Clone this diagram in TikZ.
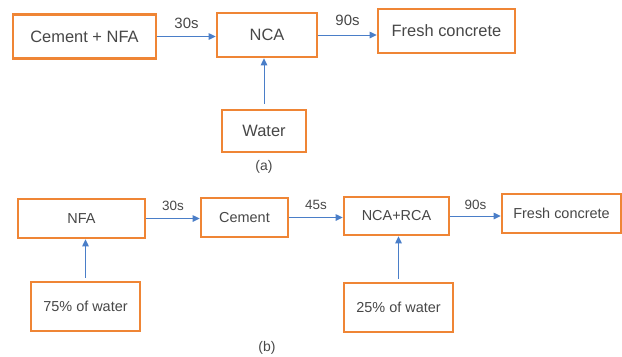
\documentclass[tikz,border=0pt]{standalone}
\usepackage{fontspec}
\setmainfont{Liberation Sans}
\usetikzlibrary{arrows.meta}
\definecolor{boxorange}{HTML}{EF8535}
\definecolor{arrblue}{HTML}{4A7EC8}
\definecolor{txtgray}{HTML}{474747}
\tikzset{
  box/.style={draw=boxorange, line width=2.6bp, fill=white, text=txtgray, inner sep=0pt},
  abox/.style={box, font=\fontsize{16.5}{18}\selectfont},
  bbox/.style={box, font=\fontsize{14.5}{16}\selectfont},
  arr/.style={draw=arrblue, line width=1bp, -{Triangle[length=7bp,width=6.5bp]}},
  tlab/.style={text=txtgray, inner sep=0pt},
}
\begin{document}
\begin{tikzpicture}[x=1bp,y=-1bp]
\useasboundingbox (0,0) rectangle (622,356);
% (a)
\node[abox, minimum width=143bp, minimum height=44bp] (a1) at (84.5,36.5) {Cement + NFA};
\node[abox, minimum width=100bp, minimum height=44bp] (a2) at (267,35) {NCA};
\node[abox, minimum width=137bp, minimum height=44bp] (a3) at (446.5,31) {Fresh concrete};
\node[abox, minimum width=84bp, minimum height=42bp] (a4) at (264,131) {Water};
\node[tlab, font=\fontsize{14}{16}\selectfont] (la) at (264,167) {(a)};
\draw[arr] (a1.east) -- (a1.east -| a2.west) node[tlab, midway, above=7bp, font=\fontsize{15}{16}\selectfont] (t1) {30s};
\draw[arr] (a2.east) -- (a2.east -| a3.west) node[tlab, midway, above=9bp, font=\fontsize{15}{16}\selectfont] (t2) {90s};
\draw[arr, shorten <=5bp] (a4.north) -- (a4.north |- a2.south);
% (b)
\node[bbox, minimum width=127bp, minimum height=39bp] (b1) at (81.5,218.5) {NFA};
\node[bbox, minimum width=87bp, minimum height=39bp] (b2) at (244.5,217.5) {Cement};
\node[bbox, minimum width=105bp, minimum height=38bp] (b3) at (396.5,216) {NCA+RCA};
\node[bbox, minimum width=119bp, minimum height=39bp] (b4) at (561.5,213.5) {Fresh concrete};
\node[bbox, minimum width=109bp, minimum height=49bp] (b5) at (85.5,306.5) {75\% of water};
\node[bbox, minimum width=109bp, minimum height=49bp] (b6) at (398.5,307.5) {25\% of water};
\node[tlab, font=\fontsize{14}{16}\selectfont] (lb) at (267,348) {(b)};
\draw[arr] (b1.east) -- (b1.east -| b2.west) node[tlab, midway, above=7bp, font=\fontsize{13.5}{15}\selectfont] (t3) {30s};
\draw[arr] (b2.east) -- (b2.east -| b3.west) node[tlab, midway, above=7bp, font=\fontsize{13.5}{15}\selectfont] (t4) {45s};
\draw[arr] (b3.east) -- (b3.east -| b4.west) node[tlab, midway, above=6bp, font=\fontsize{13.5}{15}\selectfont] (t5) {90s};
\draw[arr, shorten <=3bp] (b5.north) -- (b5.north |- b1.south);
\draw[arr, shorten <=3bp] (b6.north) -- (b6.north |- b3.south);
\end{tikzpicture}
\end{document}
